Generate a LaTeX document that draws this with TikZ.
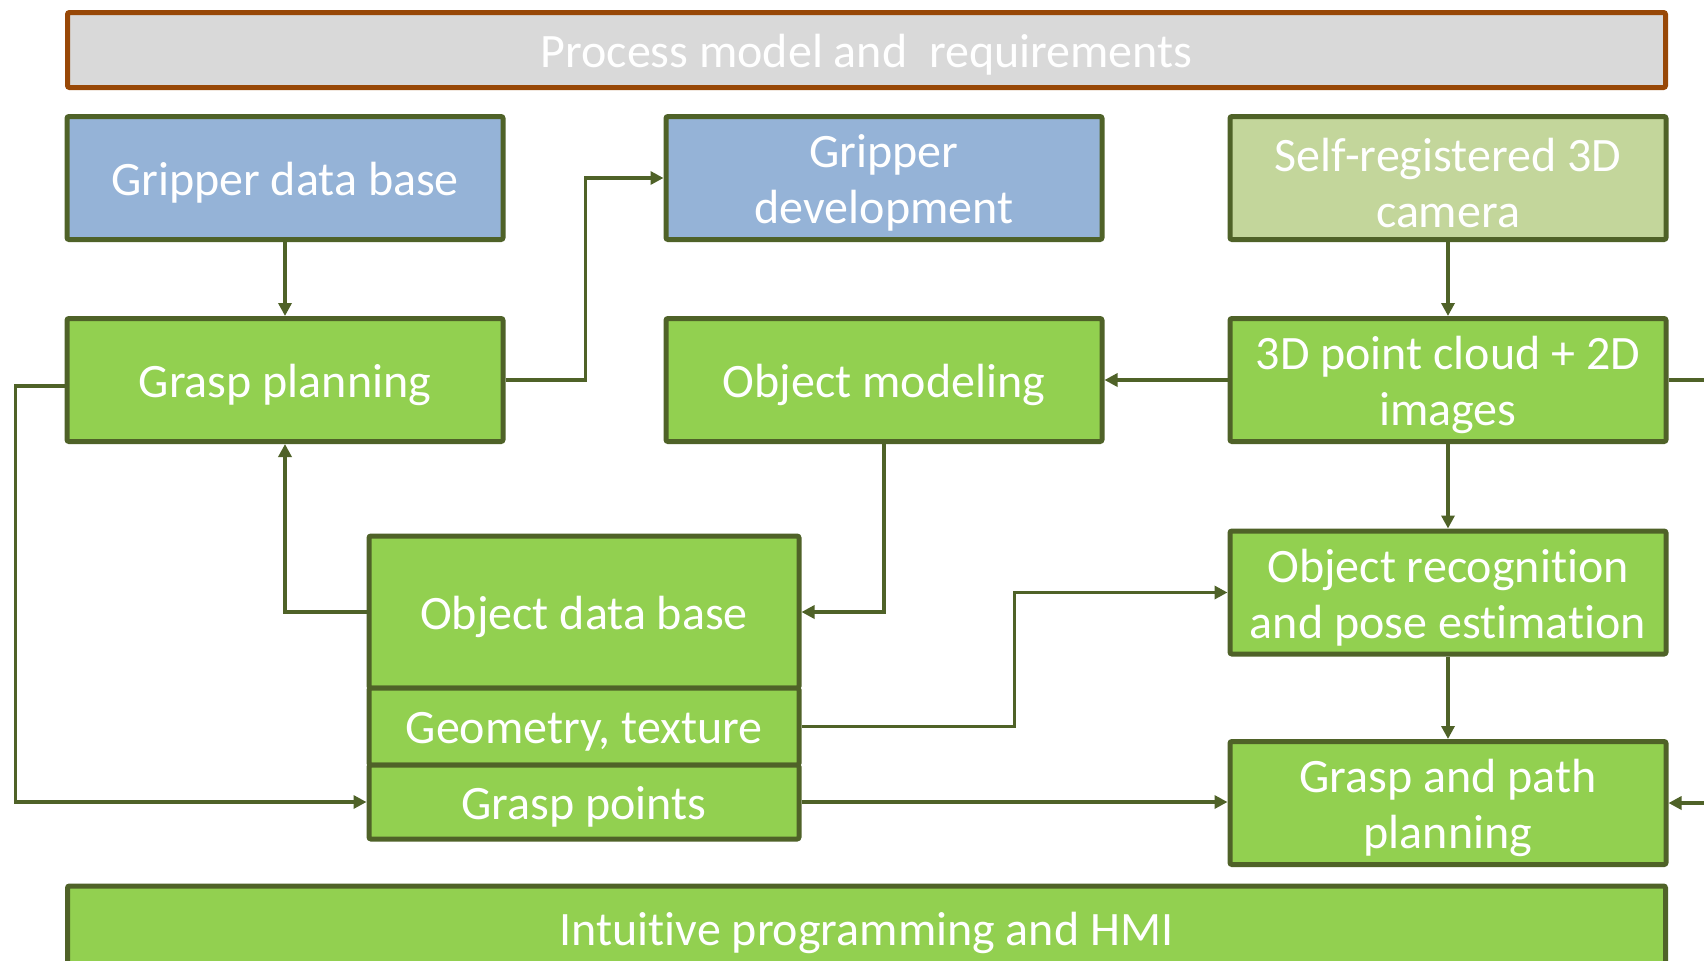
\documentclass[tikz,border=0pt]{standalone}
\usepackage{fontspec}
\setmainfont{Carlito}[Ligatures={NoCommon,NoContextual,NoRequired},Contextuals=NoAlternate]
\usetikzlibrary{arrows.meta,calc}
\definecolor{bgreen}{HTML}{4F6228}
\definecolor{borange}{HTML}{984807}
\definecolor{fblue}{HTML}{95B3D7}
\definecolor{flgreen}{HTML}{C3D69B}
\definecolor{fgreen}{HTML}{92D050}
\definecolor{fgray}{HTML}{D9D9D9}
\tikzset{
  box/.style={draw=bgreen, line width=2.5pt, rounded corners=1pt, inner sep=0pt,
    minimum width=218pt, minimum height=61.5pt},
  bluebox/.style={box, fill=fblue},
  lgbox/.style={box, fill=flgreen},
  gbox/.style={box, fill=fgreen},
  txt/.style={text=white, font=\fontsize{24}{28}\selectfont, align=center, inner sep=0pt},
  conn/.style={draw=bgreen, line width=1.8pt, -{Triangle[length=6.5pt,width=6.5pt]}},
  plainconn/.style={draw=bgreen, line width=1.8pt}
}
\newcommand{\boxtext}[2]{\node[txt] (#1-t) at ([yshift=-2.5pt]#1.center) {#2};}
\begin{document}
\begin{tikzpicture}[x=0.5pt,y=-0.5pt]
\useasboundingbox[fill=white] (0,0) rectangle (1704,960);
% top bar
\node[box, draw=borange, fill=fgray, minimum width=799pt, minimum height=37.5pt] (top) at (866.5,50) {};
\boxtext{top}{Process model and \ requirements}
% row 1
\node[bluebox] (gdb) at (285,178) {};
\boxtext{gdb}{Gripper data base}
\node[bluebox] (gdev) at (884,178) {};
\boxtext{gdev}{Gripper\\development}
\node[lgbox] (cam) at (1448,178) {};
\boxtext{cam}{Self-registered 3D\\camera}
% row 2
\node[gbox] (gp) at (285,380) {};
\boxtext{gp}{Grasp planning}
\node[gbox] (om) at (884,380) {};
\boxtext{om}{Object modeling}
\node[gbox] (pc) at (1448,380) {};
\boxtext{pc}{3D point cloud + 2D\\images}
% object data base stack
\node[gbox, minimum width=215pt, minimum height=76pt] (odb) at (584,612) {};
\boxtext{odb}{Object data base}
\node[gbox, minimum width=215pt, minimum height=38.5pt] (geo) at (584,726.5) {};
\boxtext{geo}{Geometry, texture}
\node[gbox, minimum width=215pt, minimum height=37pt] (gpts) at (584,802) {};
\boxtext{gpts}{Grasp points}
% right column
\node[gbox] (orec) at (1448,592.5) {};
\boxtext{orec}{Object recognition\\and pose estimation}
\node[gbox] (gpp) at (1448,803) {};
\boxtext{gpp}{Grasp and path\\planning}
% bottom bar
\node[gbox, minimum width=799pt, minimum height=42pt] (hmi) at (866.5,928) {};
\boxtext{hmi}{Intuitive programming and HMI}
% edge coordinates
\coordinate (edgeA) at (1704,380);
\coordinate (edgeB) at (1704,803);
% connectors
\draw[conn] (gdb.south) -- (gp.north);
\draw[conn] (gp.east) -- ++(80,0) |- (gdev.west);
\draw[conn] ([yshift=-3pt]gp.west) -- ++(-49,0) |- (gpts.west);
\draw[conn] (odb.west) -| (gp.south);
\draw[conn] (om.south) |- (odb.east);
\draw[conn] (pc.west) -- (om.east);
\draw[conn] (cam.south) -- (pc.north);
\draw[conn] (pc.south) -- (orec.north);
\draw[conn] (orec.south) -- (gpp.north);
\draw[conn] (geo.east) -- ++(213,0) |- (orec.west);
\draw[conn] (gpts.east) -- (gpts.east -| gpp.west);
\draw[plainconn] (pc.east) -- (edgeA);
\draw[conn] (edgeB) -- (gpp.east);
\end{tikzpicture}
\end{document}
